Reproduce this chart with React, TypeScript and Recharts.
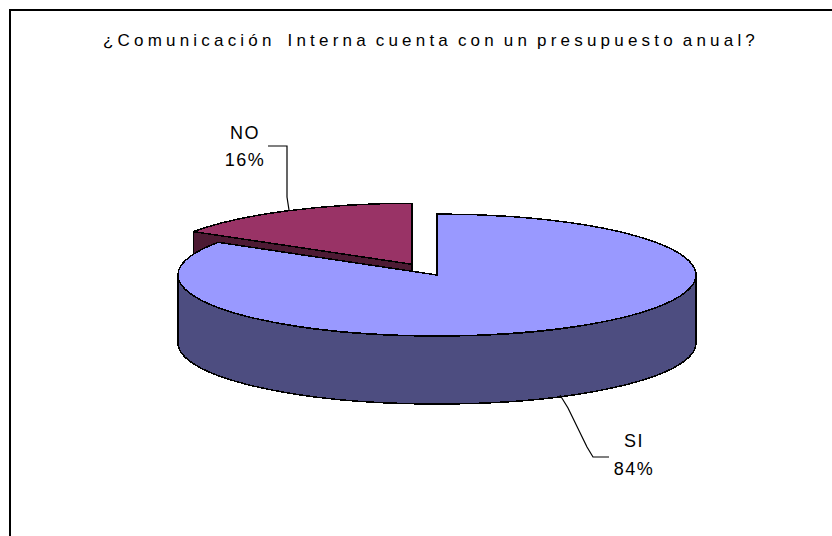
import { PieChart, Pie } from 'recharts';

const categories = ['NO', 'SI'];
const shares = [16, 84];
const chartTitle = '¿Comunicación  Interna cuenta con un presupuesto anual?';

const rows = categories.map((name, i) => ({ name, value: shares[i] }));

const TOP_COLORS: Record<string, string> = { NO: '#993366', SI: '#9999ff' };
const SIDE_COLORS: Record<string, string> = { NO: '#4d1a33', SI: '#4d4d80' };

// squash of the pie into an ellipse, extrusion height and slice pull-out
const SQUASH = 61 / 259;
const DEPTH = 68;
const EXPLODE: Record<string, number> = { NO: 0.2, SI: 0 };

const RAD = Math.PI / 180;
const font = '"Liberation Sans", Arial, sans-serif';

const Slice3D = (props: any) => {
  const { cx, cy, outerRadius, startAngle, endAngle, midAngle } = props;
  const name = props.name ?? props.payload?.name;
  const rx = outerRadius;
  const ry = outerRadius * SQUASH;
  const pull = EXPLODE[name] ?? 0;
  const x0 = cx + pull * rx * Math.cos(midAngle * RAD);
  const y0 = cy - pull * ry * Math.sin(midAngle * RAD);
  const pt = (a: number) => [x0 + rx * Math.cos(a * RAD), y0 - ry * Math.sin(a * RAD)];

  const [sx, sy] = pt(startAngle);
  const [ex, ey] = pt(endAngle);
  const large = Math.abs(startAngle - endAngle) > 180 ? 1 : 0;

  const hi = Math.min(startAngle, 0);
  const lo = Math.max(endAngle, -180);
  const [hx, hy] = pt(hi);
  const [lx, ly] = pt(lo);

  const common = { stroke: '#000', strokeWidth: 1.5, strokeLinejoin: 'round' as const };
  return (
    <g shapeRendering="crispEdges">
      <path
        d={`M${x0},${y0} L${sx},${sy} L${sx},${sy + DEPTH} L${x0},${y0 + DEPTH} Z`}
        fill={SIDE_COLORS[name]}
        {...common}
      />
      <path
        d={`M${x0},${y0} L${ex},${ey} L${ex},${ey + DEPTH} L${x0},${y0 + DEPTH} Z`}
        fill={SIDE_COLORS[name]}
        {...common}
      />
      {hi > lo && (
        <path
          d={`M${hx},${hy} A${rx},${ry} 0 0 1 ${lx},${ly} L${lx},${ly + DEPTH} A${rx},${ry} 0 0 0 ${hx},${hy + DEPTH} Z`}
          fill={SIDE_COLORS[name]}
          {...common}
        />
      )}
      <path
        d={`M${x0},${y0} L${sx},${sy} A${rx},${ry} 0 ${large} 1 ${ex},${ey} Z`}
        fill={TOP_COLORS[name]}
        {...common}
      />
    </g>
  );
};

const LABEL_SPOTS: Record<string, { x: number; y1: number; y2: number }> = {
  NO: { x: 245, y1: 139, y2: 166 },
  SI: { x: 634, y1: 447, y2: 475 },
};

const renderLabel = (props: any) => {
  const { name, percent } = props;
  const spot = LABEL_SPOTS[name];
  return (
    <g key={name} fontFamily={font} fontSize={18} letterSpacing={1.5} fill="#000" textAnchor="middle">
      <text x={spot.x} y={spot.y1}>{name}</text>
      <text x={spot.x} y={spot.y2}>{`${Math.round(percent * 100)}%`}</text>
    </g>
  );
};

const LEADERS: Record<string, string> = {
  NO: '268,146 287,146 287,197 289,210',
  SI: '560,395 568,408 587,447 593,457 609,457',
};

const renderLine = (props: any) => {
  const name = props.name ?? props.payload?.name;
  return <polyline key={name} points={LEADERS[name]} fill="none" stroke="#000" strokeWidth={1.2} />;
};

export default function App() {
  return (
    <div style={{ position: 'absolute', left: 0, top: 0, width: 832, height: 536, background: '#fff' }}>
      <PieChart width={832} height={536} margin={{ top: 0, right: 0, bottom: 0, left: 0 }}>
        <rect x={10} y={10} width={840} height={540} fill="#fff" stroke="#000" strokeWidth={2} />
        <text
          x={431}
          y={46}
          textAnchor="middle"
          fontFamily={font}
          fontSize={17}
          letterSpacing={4.2}
          wordSpacing={-3}
          fill="#000"
          style={{ whiteSpace: 'pre' }}
        >
          {chartTitle}
        </text>
        <Pie
          data={rows}
          dataKey="value"
          nameKey="name"
          cx={437}
          cy={275}
          outerRadius={259}
          startAngle={147.6}
          endAngle={-212.4}
          shape={Slice3D}
          label={renderLabel}
          labelLine={renderLine}
          isAnimationActive={false}
        />
      </PieChart>
    </div>
  );
}
